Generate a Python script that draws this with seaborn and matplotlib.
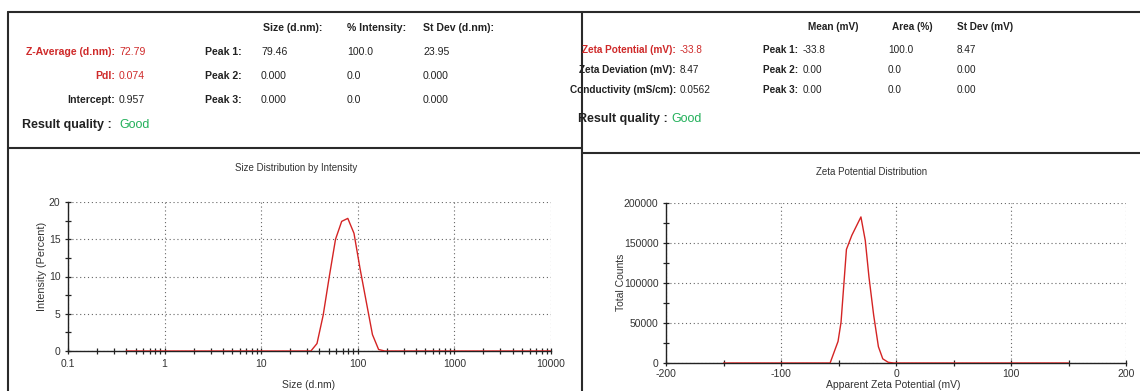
import matplotlib
matplotlib.use("Agg")
import matplotlib.pyplot as plt
import seaborn as sns
import numpy as np
import pandas as pd
from matplotlib.lines import Line2D
from matplotlib.ticker import LogLocator, NullFormatter, MultipleLocator

# Size distribution (log x)
size_nm = [0.4, 32.7, 37.8, 43.8, 50.7, 58.8, 68.1, 78.8, 91.3, 105.7, 122.4, 141.8, 164.2, 190.1, 10000]
intensity_pct = [0.0, 0.0, 1.0, 4.8, 10.0, 15.0, 17.4, 17.8, 15.8, 11.0, 6.6, 2.2, 0.2, 0.0, 0.0]

# Zeta potential distribution
zeta_mv = [-150, -57.3, -50.4, -47.8, -43.1, -38.4, -30.5, -26.7, -23.5, -19.4, -15.3, -11.5, -6.8, -2.0, 150]
total_counts = [0, 0, 27000, 50900, 142000, 159600, 182600, 153000, 107400, 59600, 20400, 5200, 900, 0, 0]

size_ticks = [0.1, 1, 10, 100, 1000, 10000]
size_ticklabels = ["0.1", "1", "10", "100", "1000", "10000"]

# summary tables
size_headers = ["Size (d.nm):", "% Intensity:", "St Dev (d.nm):"]
size_peaks = [["79.46", "100.0", "23.95"], ["0.000", "0.0", "0.000"], ["0.000", "0.0", "0.000"]]
zeta_headers = ["Mean (mV)", "Area (%)", "St Dev (mV)"]
zeta_peaks = [["-33.8", "100.0", "8.47"], ["0.00", "0.0", "0.00"], ["0.00", "0.0", "0.00"]]

W, H = 1140, 391
RED = "#cf2a2a"
LINE = "#d42424"
GREEN = "#22b05a"

sns.set_style("white")
plt.rcParams["font.family"] = ["Liberation Sans", "DejaVu Sans"]
plt.rcParams["axes.unicode_minus"] = False

fig = plt.figure(figsize=(W / 100, H / 100), dpi=100)

def fx(px):
    return px / W

def fy(py):
    return 1 - py / H

def txt(x, y, s, **kw):
    kw.setdefault("fontsize", 7.6)
    kw.setdefault("va", "center")
    fig.text(fx(x), fy(y), s, **kw)

# frame lines of the report
for (x0, y0, x1, y1) in [(8, 12, 1140, 12), (8, 12, 8, 391), (582, 12, 582, 391),
                         (8, 148, 582, 148), (582, 153, 1140, 153)]:
    fig.add_artist(Line2D([fx(x0), fx(x1)], [fy(y0), fy(y1)], color="#2a2a2a", lw=1.5))

# ---- left summary
txt(115, 52, "Z-Average (d.nm):", ha="right", weight="bold", color=RED)
txt(119, 52, "72.79", color=RED)
txt(115, 76, "PdI:", ha="right", weight="bold", color=RED)
txt(119, 76, "0.074", color=RED)
txt(115, 100, "Intercept:", ha="right", weight="bold", color="#222")
txt(119, 100, "0.957", color="#222")
txt(112, 125, "Result quality :", ha="right", weight="bold", color="#222", fontsize=9)
txt(119, 125, "Good", color=GREEN, fontsize=9)
for h, cx in zip(size_headers, [263, 347, 423]):
    txt(cx, 28, h, weight="bold", color="#222")
for i, row in enumerate(size_peaks):
    yy = 52 + 24 * i
    txt(242, yy, f"Peak {i + 1}:", ha="right", weight="bold", color="#222")
    for v, cx in zip(row, [261, 347, 423]):
        txt(cx, yy, v, color="#222")

# ---- right summary
txt(676, 50, "Zeta Potential (mV):", ha="right", weight="bold", color=RED, fontsize=7.2)
txt(680, 50, "-33.8", color=RED, fontsize=7.2)
txt(676, 70, "Zeta Deviation (mV):", ha="right", weight="bold", color="#222", fontsize=7.2)
txt(680, 70, "8.47", color="#222", fontsize=7.2)
txt(676, 90, "Conductivity (mS/cm):", ha="right", weight="bold", color="#222", fontsize=7.2)
txt(680, 90, "0.0562", color="#222", fontsize=7.2)
txt(668, 119, "Result quality :", ha="right", weight="bold", color="#222", fontsize=9)
txt(671, 119, "Good", color=GREEN, fontsize=9)
for h, cx in zip(zeta_headers, [808, 892, 957]):
    txt(cx, 27, h, weight="bold", color="#222", fontsize=7.2)
for i, row in enumerate(zeta_peaks):
    yy = 50 + 20 * i
    txt(798, yy, f"Peak {i + 1}:", ha="right", weight="bold", color="#222", fontsize=7.2)
    for v, cx in zip(row, [803, 888, 957]):
        txt(cx, yy, v, color="#222", fontsize=7.2)

# ---- plots
ax1 = fig.add_axes([fx(68), fy(351), fx(551) - fx(68), fy(202) - fy(351)])
ax2 = fig.add_axes([fx(666), fy(363), fx(1126) - fx(666), fy(203) - fy(363)])

df_size = pd.DataFrame({"size": size_nm, "intensity": intensity_pct})
df_zeta = pd.DataFrame({"zeta": zeta_mv, "counts": total_counts})

sns.lineplot(data=df_size, x="size", y="intensity", ax=ax1, color=LINE, lw=1, estimator=None, zorder=5)
sns.lineplot(data=df_zeta, x="zeta", y="counts", ax=ax2, color=LINE, lw=1, estimator=None, zorder=5)

ax1.set_xscale("log")
ax1.set_xlim(0.1, 10000)
ax1.set_ylim(0, 20)
ax1.set_xticks(size_ticks)
ax1.set_xticklabels(size_ticklabels)
ax1.xaxis.set_minor_locator(LogLocator(base=10, subs=np.arange(2, 10)))
ax1.xaxis.set_minor_formatter(NullFormatter())
ax1.yaxis.set_major_locator(MultipleLocator(5))
ax1.yaxis.set_minor_locator(MultipleLocator(2.5))

ax2.set_xlim(-200, 200)
ax2.set_ylim(0, 200000)
ax2.xaxis.set_major_locator(MultipleLocator(100))
ax2.xaxis.set_minor_locator(MultipleLocator(50))
ax2.yaxis.set_major_locator(MultipleLocator(50000))
ax2.yaxis.set_minor_locator(MultipleLocator(25000))
ax2.ticklabel_format(axis="y", style="plain")

for ax in (ax1, ax2):
    ax.set_facecolor("none")
    ax.set_xlabel("")
    ax.set_ylabel("")
    for s in ("top", "right"):
        ax.spines[s].set_visible(False)
    for s in ("left", "bottom"):
        ax.spines[s].set_color("#222")
        ax.spines[s].set_linewidth(1.0)
    ax.grid(True, which="major", linestyle=(0, (1, 2.5)), color="#666", lw=0.8)
    ax.tick_params(which="both", bottom=True, left=True, top=False, right=False)
    ax.tick_params(which="major", direction="inout", length=5, width=0.9, color="#222",
                   labelsize=7.5, labelcolor="#333", pad=3)
    ax.tick_params(which="minor", direction="inout", length=4, width=0.9, color="#222")
ax2.tick_params(axis="x", which="major", pad=1.5)

txt(296, 168, "Size Distribution by Intensity", ha="center", fontsize=7, color="#333")
txt(872, 172, "Zeta Potential Distribution", ha="center", fontsize=7, color="#333")
txt(309, 385, "Size (d.nm)", ha="center", fontsize=7.5, color="#333")
txt(893, 385, "Apparent Zeta Potential (mV)", ha="center", fontsize=7.5, color="#333")
txt(42, 266, "Intensity (Percent)", ha="center", rotation=90, fontsize=7.8, color="#333")
txt(621, 282, "Total Counts", ha="center", rotation=90, fontsize=7.5, color="#333")

fig.savefig("out.png", dpi=100)
